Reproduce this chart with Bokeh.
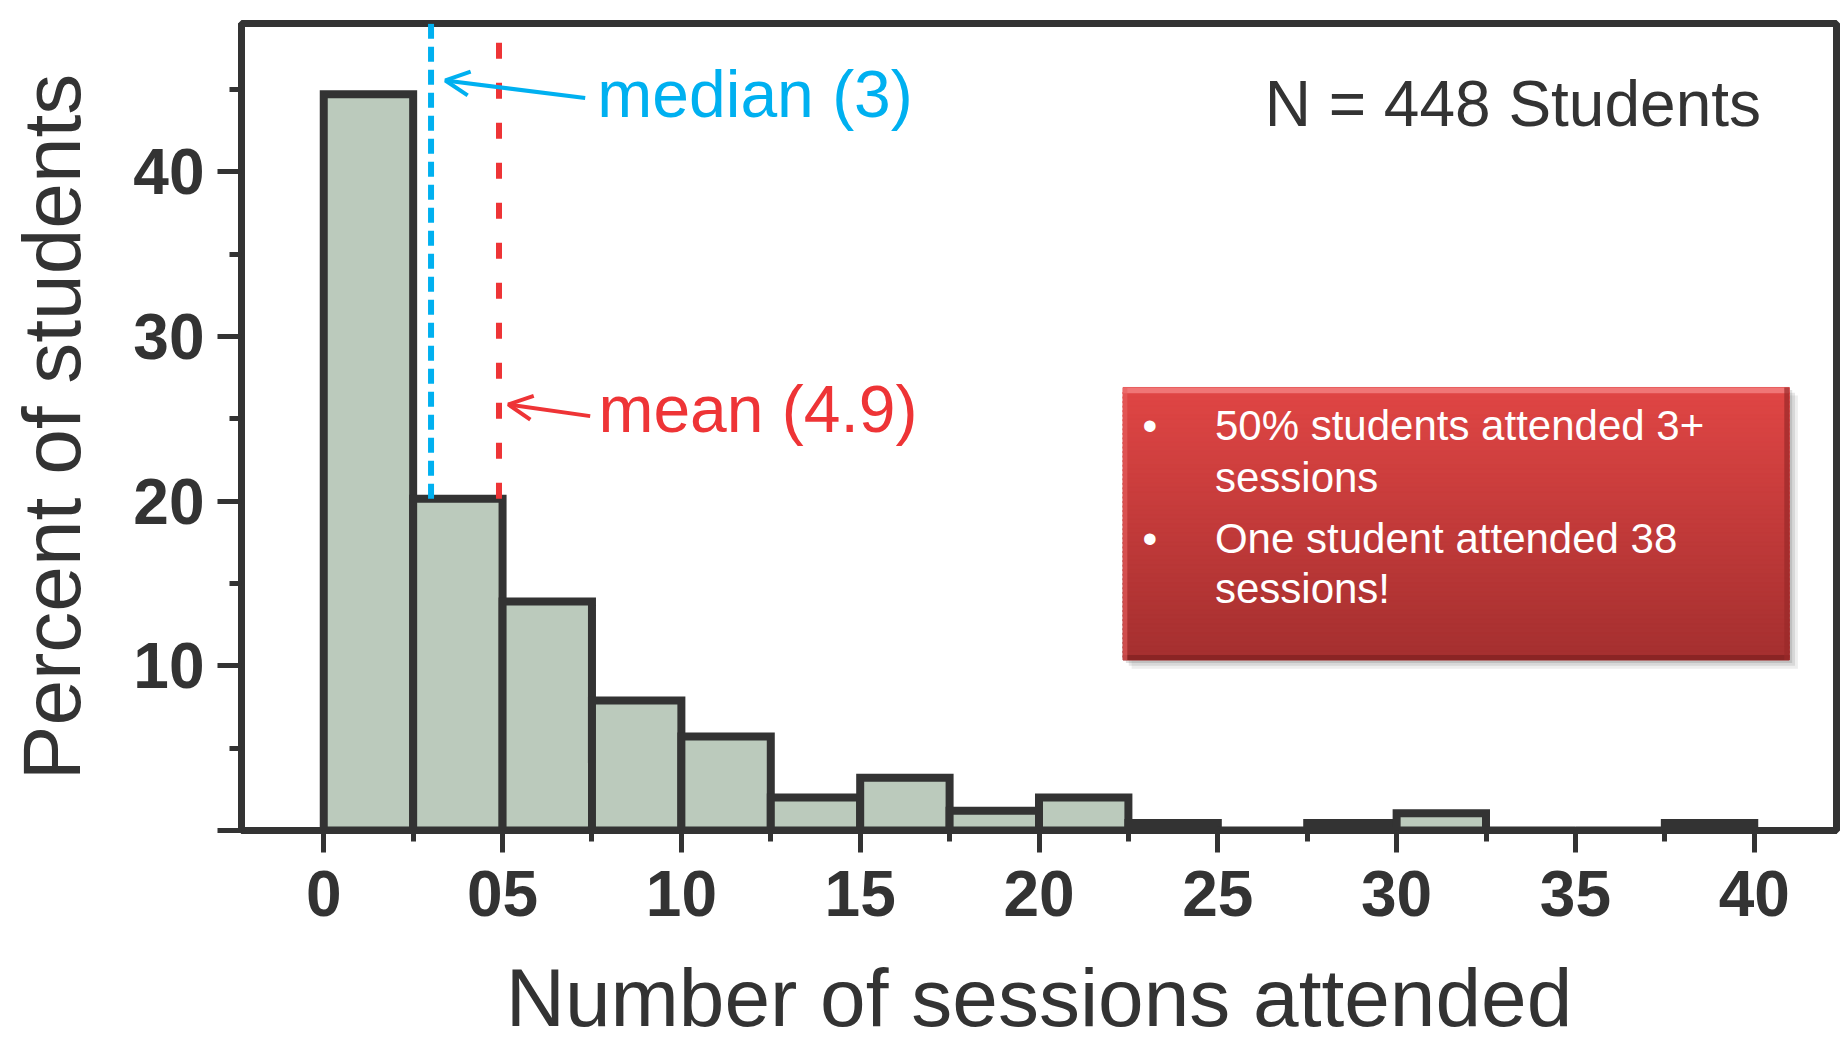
from bokeh.plotting import figure
from bokeh.models import FixedTicker, Label, Arrow, OpenHead
from bokeh.embed import file_html
from bokeh.resources import INLINE

# ---------------- data ----------------
bin_edges = [0, 2.5, 5, 7.5, 10, 12.5, 15, 17.5, 20, 22.5, 25, 27.5, 30, 32.5, 35, 37.5, 40]
percent_students = [44.7, 20.15, 13.9, 7.9, 5.7, 2.0, 3.2, 1.2, 2.0, 0.45, 0.0, 0.45, 1.05, 0.0, 0.0, 0.45]
median_sessions = 3
mean_sessions = 4.9
n_students = 448
x_ticks = [0, 5, 10, 15, 20, 25, 30, 35, 40]
x_tick_labels = ["0", "05", "10", "15", "20", "25", "30", "35", "40"]
y_ticks = [0, 10, 20, 30, 40]
y_tick_labels = ["", "10", "20", "30", "40"]
x_title = "Number of sessions attended"
y_title = "Percent of students"
note_lines = [["50% students attended 3+", "sessions"],
              ["One student attended 38", "sessions!"]]

DARK = "#333333"
CYAN = "#00B0F0"
RED = "#EE3436"
FONT = "Liberation Sans"

p = figure(width=1843, height=1045, x_range=(-2.3, 42.3), y_range=(0, 49),
           output_backend="svg", toolbar_location=None,
           min_border_left=241, min_border_right=7, min_border_top=23, min_border_bottom=215)
p.background_fill_color = "white"
p.border_fill_color = "white"
p.outline_line_color = DARK
p.outline_line_width = 7
p.xgrid.visible = False
p.ygrid.visible = False

# axes
for ax in (p.xaxis[0], p.yaxis[0]):
    ax.axis_line_color = DARK
    ax.axis_line_width = 7
    ax.major_tick_line_color = DARK
    ax.major_tick_line_width = 5
    ax.minor_tick_line_color = DARK
    ax.minor_tick_line_width = 5
    ax.major_tick_in = 0
    ax.minor_tick_in = 0
    ax.major_label_text_font = FONT
    ax.major_label_text_font_style = "bold"
    ax.major_label_text_color = DARK
    ax.axis_label_text_font = FONT
    ax.axis_label_text_font_style = "normal"
    ax.axis_label_text_color = DARK
    ax.axis_label_text_font_size = "82px"

p.xaxis.ticker = FixedTicker(ticks=x_ticks,
                             minor_ticks=[e for e in bin_edges if e not in x_ticks])
p.xaxis.major_label_overrides = {t: l for t, l in zip(x_ticks, x_tick_labels)}
p.xaxis.major_tick_out = 22
p.xaxis.minor_tick_out = 11
p.xaxis.major_label_text_font_size = "64px"
p.xaxis.major_label_standoff = 18
p.xaxis.axis_label = x_title
p.xaxis.axis_label_standoff = 33

p.yaxis.ticker = FixedTicker(ticks=y_ticks, minor_ticks=[t + 5 for t in y_ticks])
p.yaxis.major_label_overrides = {t: l for t, l in zip(y_ticks, y_tick_labels)}
p.yaxis.major_tick_out = 24
p.yaxis.minor_tick_out = 12
p.yaxis.major_label_text_font_size = "64px"
p.yaxis.major_label_standoff = 13
p.yaxis.axis_label = y_title
p.yaxis.axis_label_standoff = 33

# histogram bars
p.quad(left=bin_edges[:-1], right=bin_edges[1:], top=percent_students, bottom=0,
       fill_color="#BBCABC", line_color=DARK, line_width=8, line_join="miter")

# median / mean lines
y_top = p.y_range.end
p.segment(x0=[median_sessions], y0=[percent_students[1]], x1=[median_sessions], y1=[y_top],
          line_color=CYAN, line_width=6, line_dash="15 8")
p.segment(x0=[mean_sessions], y0=[percent_students[1]], x1=[mean_sessions], y1=[y_top],
          line_color=RED, line_width=6, line_dash="16 24")

# annotations for median / mean
p.add_layout(Arrow(end=OpenHead(size=24, line_color=CYAN, line_width=4),
                   x_start=7.31, y_start=44.47, x_end=median_sessions + 0.40, y_end=45.54,
                   line_color=CYAN, line_width=4))
p.add_layout(Arrow(end=OpenHead(size=24, line_color=RED, line_width=4),
                   x_start=7.45, y_start=25.16, x_end=mean_sessions + 0.26, y_end=25.87,
                   line_color=RED, line_width=4))
p.add_layout(Label(x=7.65, y=44.70, text="median (%d)" % median_sessions,
                   text_font=FONT, text_font_size="66px", text_color=CYAN,
                   text_baseline="alphabetic"))
p.add_layout(Label(x=7.68, y=25.61, text="mean (%.1f)" % mean_sessions,
                   text_font=FONT, text_font_size="66px", text_color=RED,
                   text_baseline="alphabetic"))
p.add_layout(Label(x=26.31, y=44.10, text="N = %d Students" % n_students,
                   text_font=FONT, text_font_size="64px", text_color=DARK,
                   text_baseline="alphabetic"))

# red note box with a vertical gradient, shadow and bevel
bx0, bx1, by0, by1 = 22.35, 40.98, 10.35, 26.9
for k, a in enumerate([0.10, 0.14, 0.18]):
    off = 0.08 * (3 - k)
    p.quad(left=[bx0 + off], right=[bx1 + off], top=[by1 - off * 2], bottom=[by0 - off * 2.2],
           fill_color="#555555", fill_alpha=a, line_alpha=0)
n_strips = 60
top_rgb = (0xE0, 0x46, 0x45)
bot_rgb = (0xA6, 0x30, 0x30)
lefts, rights, tops, bottoms, cols = [], [], [], [], []
h = (by1 - by0) / n_strips
for i in range(n_strips):
    f = i / (n_strips - 1)
    r = int(top_rgb[0] + (bot_rgb[0] - top_rgb[0]) * f)
    g = int(top_rgb[1] + (bot_rgb[1] - top_rgb[1]) * f)
    b = int(top_rgb[2] + (bot_rgb[2] - top_rgb[2]) * f)
    lefts.append(bx0)
    rights.append(bx1)
    tops.append(by1 - i * h)
    bottoms.append(max(by0, by1 - (i + 1) * h - 0.12))
    cols.append("#%02x%02x%02x" % (r, g, b))
p.quad(left=lefts, right=rights, top=tops, bottom=bottoms, fill_color=cols,
       line_color=cols, line_width=1)
# bevel edges
p.quad(left=[bx0], right=[bx1], top=[by1], bottom=[by1 - 0.35], fill_color="#F07676", line_alpha=0)
p.quad(left=[bx0], right=[bx1], top=[by0 + 0.3], bottom=[by0], fill_color="#8A2424", line_alpha=0)
p.quad(left=[bx1 - 0.14], right=[bx1], top=[by1], bottom=[by0], fill_color="#9A2A2A", fill_alpha=0.7, line_alpha=0)
p.quad(left=[bx0], right=[bx0 + 0.12], top=[by1], bottom=[by0], fill_color="#E86060", fill_alpha=0.6, line_alpha=0)

line_y = [[24.61, 21.44], [17.73, 14.69]]
for item, ys in zip(note_lines, line_y):
    p.add_layout(Label(x=23.10, y=ys[0], text="\u2022", text_font=FONT, text_font_size="42px",
                       text_color="white", text_align="center", text_baseline="alphabetic"))
    for txt, yy in zip(item, ys):
        p.add_layout(Label(x=24.92, y=yy, text=txt, text_font=FONT, text_font_size="42px",
                           text_color="white", text_baseline="alphabetic"))

open("out.html", "w").write(file_html(p, INLINE))
